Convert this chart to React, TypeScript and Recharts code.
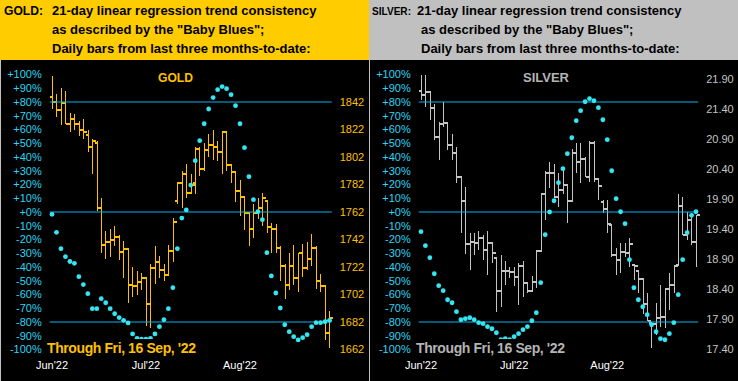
import { Bar, ComposedChart, Line, ReferenceLine, XAxis, YAxis } from "recharts"

const monthLabels = ["Jun'22", "Jul'22", "Aug'22"]
const monthStarts = [0, 21, 42]
const pctTicks = [-100, -90, -80, -70, -60, -50, -40, -30, -20, -10, 0, 10, 20, 30, 40, 50, 60, 70, 80, 90, 100]
const bandLines = [80, 0, -80]

const goldPriceTicks = [1662, 1682, 1702, 1722, 1742, 1762, 1782, 1802, 1822, 1842]
const silverPriceTicks = [17.4, 17.9, 18.4, 18.9, 19.4, 19.9, 20.4, 20.9, 21.4, 21.9]

const goldHigh = [1861, 1848, 1852, 1850, 1834, 1833, 1828, 1830, 1822, 1815, 1814, 1772, 1748, 1750, 1752, 1745, 1741, 1735, 1722, 1719, 1718, 1714, 1724, 1737, 1730, 1724, 1738, 1758, 1784, 1792, 1797, 1790, 1809, 1809, 1812, 1819, 1822, 1814, 1821, 1820, 1797, 1792, 1785, 1773, 1761, 1768, 1772, 1776, 1771, 1754, 1753, 1737, 1724, 1732, 1738, 1732, 1739, 1740, 1746, 1737, 1717, 1708, 1690]
const goldLow = [1837, 1831, 1825, 1826, 1820, 1822, 1817, 1815, 1806, 1790, 1763, 1732, 1728, 1729, 1737, 1727, 1714, 1696, 1700, 1702, 1705, 1679, 1678, 1710, 1714, 1712, 1716, 1726, 1768, 1765, 1772, 1775, 1775, 1788, 1792, 1802, 1800, 1799, 1790, 1792, 1783, 1769, 1759, 1749, 1737, 1743, 1757, 1752, 1747, 1732, 1732, 1712, 1699, 1705, 1709, 1704, 1715, 1720, 1723, 1706, 1704, 1669, 1663]
const goldOpen = [1846, 1842, 1836, 1841, 1826, 1830, 1826, 1822, 1818, 1809, 1812, 1765, 1738, 1740, 1742, 1744, 1733, 1735, 1709, 1708, 1711, 1714, 1695, 1721, 1726, 1720, 1716, 1734, 1770, 1783, 1790, 1776, 1783, 1808, 1793, 1807, 1811, 1809, 1806, 1820, 1796, 1791, 1777, 1773, 1761, 1750, 1761, 1765, 1770, 1751, 1750, 1736, 1723, 1709, 1723, 1714, 1732, 1721, 1728, 1736, 1712, 1708, 1674]
const goldClose = [1842, 1836, 1841, 1826, 1830, 1826, 1822, 1820, 1809, 1814, 1765, 1738, 1740, 1742, 1744, 1733, 1735, 1709, 1708, 1711, 1714, 1695, 1721, 1726, 1720, 1716, 1734, 1755, 1783, 1790, 1776, 1782, 1808, 1793, 1807, 1811, 1809, 1806, 1820, 1796, 1791, 1777, 1773, 1761, 1750, 1761, 1765, 1772, 1751, 1750, 1736, 1723, 1709, 1723, 1714, 1732, 1721, 1728, 1736, 1712, 1708, 1674, 1685]
const goldBlues = [-1.7, -14.8, -26.7, -32.5, -36, -37.3, -47, -52.8, -59.4, -70.3, -70.3, -63, -66, -70.3, -74, -76.8, -78.8, -80.7, -88.7, -92, -92.5, -92.5, -92, -88.7, -83.4, -78.3, -70.3, -55, -26.7, -4.4, 1.5, 19.6, 37.3, 51.9, 64.2, 74.9, 83.2, 89, 91.2, 89.7, 85.3, 77.3, 64.2, 46.8, 25.7, 9, 0.2, -5.6, -29.6, -46.5, -58.9, -69.8, -82, -87, -90.7, -93, -91.4, -89.2, -83.4, -80.5, -80.5, -79.8, -78.8]

const silverHigh = [21.97, 21.97, 21.69, 21.49, 21.19, 21.52, 21.19, 20.99, 20.77, 20.27, 20.1, 19.33, 19.33, 19.36, 19.3, 19.36, 19.17, 18.94, 18.97, 18.86, 18.77, 18.77, 18.83, 18.86, 18.52, 18.61, 19.05, 20.0, 20.36, 20.52, 20.49, 20.33, 20.38, 20.15, 20.74, 20.83, 20.83, 20.6, 20.86, 20.86, 20.25, 19.88, 19.88, 19.47, 19.08, 19.16, 19.16, 19.25, 18.8, 18.72, 18.58, 18.33, 17.83, 18.16, 18.47, 18.41, 18.66, 18.8, 19.99, 19.94, 19.69, 19.66, 19.63]
const silverLow = [21.55, 21.44, 21.22, 20.88, 20.55, 21.1, 20.72, 20.55, 20.16, 19.33, 18.99, 18.72, 18.97, 19.05, 18.88, 18.63, 18.83, 18.02, 18.1, 18.47, 18.58, 18.45, 18.13, 18.27, 18.33, 18.36, 18.41, 19.02, 19.55, 20.08, 19.91, 19.77, 19.99, 19.5, 19.86, 20.33, 20.17, 20.27, 20.19, 20.19, 19.88, 19.66, 19.33, 18.94, 18.63, 18.66, 18.94, 18.77, 18.55, 18.33, 17.99, 17.86, 17.41, 17.63, 17.77, 17.75, 18.05, 18.33, 18.8, 19.3, 19.22, 19.13, 18.77]
const silverOpen = [21.7, 21.63, 21.69, 21.41, 20.94, 21.15, 21.17, 20.8, 20.67, 20.26, 19.86, 19.15, 19.18, 19.17, 19.25, 19.05, 19.16, 18.92, 18.36, 18.7, 18.7, 18.69, 18.6, 18.78, 18.5, 18.36, 18.52, 19.03, 19.99, 20.34, 20.34, 19.94, 20.05, 20.14, 19.87, 20.67, 20.51, 20.57, 20.27, 20.84, 20.24, 19.85, 19.74, 19.47, 18.97, 18.88, 19.01, 19.0, 18.8, 18.7, 18.56, 18.15, 17.83, 17.81, 17.91, 17.93, 18.4, 18.47, 18.8, 19.78, 19.3, 19.55, 19.19]
const silverClose = [21.63, 21.69, 21.41, 20.94, 21.15, 21.17, 20.8, 20.67, 20.26, 19.86, 19.15, 19.18, 19.17, 19.25, 19.05, 19.16, 19.0, 18.36, 18.7, 18.7, 18.69, 18.6, 18.78, 18.5, 18.36, 18.52, 19.03, 19.99, 20.34, 20.34, 19.94, 20.05, 20.14, 19.87, 20.67, 20.51, 20.57, 20.27, 20.84, 20.24, 20.12, 19.74, 19.48, 18.97, 18.88, 19.01, 19.0, 19.15, 18.78, 18.56, 18.15, 17.87, 17.81, 17.91, 17.93, 18.4, 18.47, 18.78, 19.78, 19.3, 19.55, 19.19, 19.63]
const silverBlues = [-14.3, -24.5, -33.2, -44.9, -53.6, -57.2, -63.8, -66, -72.5, -78.3, -77.6, -76.9, -78.3, -80.5, -81.2, -83.4, -84.9, -87.8, -92.9, -92.1, -92.9, -90.7, -88.5, -85.6, -83.4, -79.1, -73.2, -51.4, -16.5, 0, 8.2, 21.3, 31.5, 42.4, 54, 66.4, 73.7, 80.2, 82.4, 80.9, 75.9, 67.1, 52.6, 30, 9.7, 0.2, -8.5, -34.7, -55.1, -63.8, -68.9, -74.7, -82, -87.1, -92.1, -92.9, -88.5, -80.5, -60.1, -34.7, -15.1, -2.4, 0.2]

const FONT = "Arial, 'Liberation Sans', sans-serif"
const CYAN_TEXT = "#2bd5f5"
const CYAN_LINE = "#00b4f0"
const CYAN_DOT = "#33e6f2"
const GOLD = "#ffc000"
const SILVER = "#c4c4c4"

function buildRows(high: number[], low: number[], open: number[], close: number[], blues: number[]) {
  return high.map((h, i) => {
    const m = monthStarts.indexOf(i)
    return {
      label: m >= 0 ? monthLabels[m] : "",
      range: [low[i], h],
      high: h,
      low: low[i],
      open: open[i],
      close: close[i],
      blue: blues[i],
    }
  })
}

const fmtPct = (v: number) => (v >= 0 ? "+" : "") + v + "%"

function OhlcBar(props: any) {
  const { x, y, width, height, payload, color } = props
  if (!payload || x == null) return null
  const cx = Math.round(x + width / 2) + 0.5
  const top = Math.min(y, y + height)
  const bot = Math.max(y, y + height)
  const span = payload.high - payload.low || 1
  const at = (v: number) => top + ((payload.high - v) / span) * (bot - top)
  const yo = at(payload.open)
  const yc = at(payload.close)
  return (
    <g shapeRendering="crispEdges">
      <line x1={cx} x2={cx} y1={top} y2={bot} stroke={color} strokeWidth={1.3} />
      <line x1={cx - 3} x2={cx} y1={yo} y2={yo} stroke={color} strokeWidth={2} />
      <line x1={cx} x2={cx + 3.5} y1={yc} y2={yc} stroke={color} strokeWidth={2} />
    </g>
  )
}

type PanelProps = {
  left: number
  rows: any[]
  color: string
  priceDomain: [number, number]
  priceTicks: number[]
  priceFormat: (v: number) => string
  rightWidth: number
}

function Panel({ left, rows, color, priceDomain, priceTicks, priceFormat, rightWidth }: PanelProps) {
  return (
    <div style={{ position: "absolute", left, top: 60 }}>
      <ComposedChart
        width={369}
        height={321}
        data={rows}
        margin={{ top: 14.5, right: 0, bottom: 6.5, left: 0 }}
        barCategoryGap={0}
        barGap={0}
      >
        <XAxis
          dataKey="label"
          interval={0}
          height={25}
          axisLine={false}
          tickLine={false}
          tickMargin={6}
          tick={{ fill: "#ffffff", fontSize: 11, fontFamily: FONT }}
        />
        <YAxis
          yAxisId="pct"
          domain={[-100, 100]}
          ticks={pctTicks}
          interval={0}
          width={49.76}
          allowDataOverflow
          axisLine={false}
          tickLine={false}
          tickFormatter={fmtPct}
          tick={{ fill: CYAN_TEXT, fontSize: 11, fontFamily: FONT }}
        />
        <YAxis
          yAxisId="price"
          orientation="right"
          domain={priceDomain}
          ticks={priceTicks}
          interval={0}
          width={rightWidth}
          allowDataOverflow
          axisLine={false}
          tickLine={false}
          tickFormatter={priceFormat}
          tick={{ fill: color, fontSize: 11, fontFamily: FONT }}
        />
        {bandLines.map((v) => (
          <ReferenceLine key={v} yAxisId="pct" y={v} stroke={CYAN_LINE} strokeWidth={1} />
        ))}
        <Bar
          yAxisId="price"
          dataKey="range"
          isAnimationActive={false}
          shape={(p: any) => <OhlcBar {...p} color={color} />}
        />
        <Line
          yAxisId="pct"
          dataKey="blue"
          stroke="none"
          dot={{ r: 2.4, fill: CYAN_DOT, stroke: "none" }}
          activeDot={false}
          isAnimationActive={false}
        />
      </ComposedChart>
    </div>
  )
}

const goldRows = buildRows(goldHigh, goldLow, goldOpen, goldClose, goldBlues)
const silverRows = buildRows(silverHigh, silverLow, silverOpen, silverClose, silverBlues)

export default function App() {
  const head = { fontFamily: FONT, fontSize: 13, fontWeight: 700, fill: "#000" }
  const through = { fontFamily: FONT, fontSize: 14, fontWeight: 700, letterSpacing: -0.4 }
  return (
    <div style={{ position: "absolute", left: 0, top: 0, width: 738, height: 381, background: "#000", overflow: "hidden" }}>
      <svg width={738} height={381} style={{ position: "absolute", left: 0, top: 0 }}>
        <rect x={0} y={0} width={369} height={60} fill="#ffcc00" />
        <rect x={369} y={0} width={369} height={60} fill="#c0c0c0" />
        <text x={4} y={15} fontFamily={FONT} fontSize={12} fontWeight={700} fill="#000" textLength={39} lengthAdjust="spacingAndGlyphs">GOLD:</text>
        <text x={52} y={15} {...head}>21-day linear regression trend consistency</text>
        <text x={52} y={34} {...head}>as described by the "Baby Blues";</text>
        <text x={52} y={53} {...head}>Daily bars from last three months-to-date:</text>
        <text x={372} y={15} fontFamily={FONT} fontSize={11.5} fontWeight={700} fill="#000" textLength={39} lengthAdjust="spacingAndGlyphs">SILVER:</text>
        <text x={417} y={15} {...head}>21-day linear regression trend consistency</text>
        <text x={421} y={34} {...head}>as described by the "Baby Blues";</text>
        <text x={421} y={53} {...head}>Daily bars from last three months-to-date:</text>
      </svg>
      <Panel
        left={0}
        rows={goldRows}
        color={GOLD}
        priceDomain={[1662, 1862]}
        priceTicks={goldPriceTicks}
        priceFormat={(v) => String(v)}
        rightWidth={37.24}
      />
      <Panel
        left={369}
        rows={silverRows}
        color={SILVER}
        priceDomain={[17.392, 21.975]}
        priceTicks={silverPriceTicks}
        priceFormat={(v) => v.toFixed(2)}
        rightWidth={39.8}
      />
      <svg width={738} height={381} style={{ position: "absolute", left: 0, top: 0, pointerEvents: "none" }}>
        <rect x={0} y={60} width={1} height={321} fill="#c0c0c0" />
        <rect x={369} y={60} width={1} height={321} fill="#c0c0c0" />
        <text x={158} y={81.5} fontFamily={FONT} fontSize={13} fontWeight={700} fill={GOLD} textLength={35} lengthAdjust="spacingAndGlyphs">GOLD</text>
        <text x={523} y={81.5} fontFamily={FONT} fontSize={13} fontWeight={700} fill="#b4b4b4" textLength={46} lengthAdjust="spacingAndGlyphs">SILVER</text>
        <rect x={46} y={339} width={152} height={18} fill="#000" />
        <text x={47} y={353} {...through} fill={GOLD}>Through Fri, 16 Sep, '22</text>
        <rect x={415} y={339} width={152} height={18} fill="#000" />
        <text x={416} y={353} {...through} fill="#b4b4b4">Through Fri, 16 Sep, '22</text>
      </svg>
    </div>
  )
}
